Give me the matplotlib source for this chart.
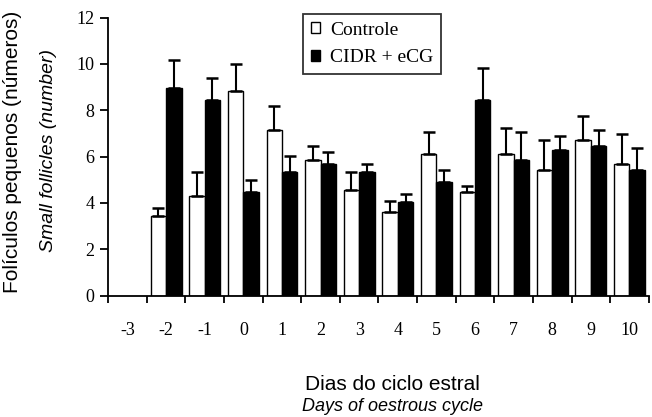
import matplotlib
matplotlib.use("Agg")
import matplotlib.pyplot as plt
import numpy as np

# values (mean and upper SEM), -3 has no data
days = ["-3", "-2", "-1", "0", "1", "2", "3", "4", "5", "6", "7", "8", "9", "10"]
controle = [np.nan, 3.43, 4.30, 8.85, 7.13, 5.84, 4.54, 3.59, 6.09, 4.46, 6.09, 5.40, 6.70, 5.66]
controle_err = [np.nan, 0.37, 1.03, 1.14, 1.05, 0.63, 0.79, 0.48, 0.97, 0.28, 1.15, 1.33, 1.06, 1.32]
cidr = [np.nan, 8.94, 8.44, 4.47, 5.32, 5.68, 5.33, 4.04, 4.90, 8.44, 5.85, 6.28, 6.44, 5.40]
cidr_err = [np.nan, 1.22, 0.94, 0.52, 0.70, 0.51, 0.36, 0.36, 0.52, 1.39, 1.22, 0.62, 0.72, 0.98]

SERIF = "Liberation Serif"
SANS = "Liberation Sans"

x = np.arange(len(days))
w = 0.4

fig = plt.figure(figsize=(6.52, 4.17), dpi=100)
ax = fig.add_axes([0.166, 0.291, 0.829, 0.667])

ax.bar(x - w / 2, controle, w, color="white", edgecolor="black", linewidth=1.0,
       label="Controle", zorder=2)
ax.bar(x + w / 2, cidr, w, color="black", edgecolor="black", linewidth=1.0,
       label="CIDR + eCG", zorder=2)

err_style = dict(fmt="none", ecolor="black", elinewidth=1.5, capsize=4, capthick=1.8, zorder=3)
ax.errorbar(x - w / 2, controle, yerr=[np.zeros(len(x)), controle_err], **err_style)
ax.errorbar(x + w / 2, cidr, yerr=[np.zeros(len(x)), cidr_err], **err_style)

ax.set_xlim(-0.5, len(days) - 0.5)
ax.set_ylim(0, 12)
ax.set_yticks(range(0, 13, 2))

# ticks on the category boundaries, labels in the middle
ax.set_xticks(np.arange(len(days) + 1) - 0.5)
ax.set_xticklabels([])
ax.set_xticks(x, minor=True)
ax.set_xticklabels(days, minor=True)
ax.tick_params(axis="x", which="major", direction="out", length=5, width=1.3)
ax.tick_params(axis="x", which="minor", length=0, pad=19)
ax.tick_params(axis="y", direction="out", length=6, width=1.3, pad=4)

for lab in ax.get_xticklabels(minor=True) + ax.get_yticklabels():
    lab.set_fontfamily(SERIF)
    lab.set_fontsize(13)

for side in ["top", "right"]:
    ax.spines[side].set_visible(False)
for side in ["left", "bottom"]:
    ax.spines[side].set_linewidth(1.3)

leg = fig.legend(loc="upper left", bbox_to_anchor=(0.465, 0.967),
                 prop={"family": SERIF, "size": 14}, frameon=True, fancybox=False,
                 handlelength=0.45, handleheight=0.45, handletextpad=0.55,
                 borderpad=0.4, labelspacing=0.55, borderaxespad=0)
leg.get_frame().set_edgecolor("black")
leg.get_frame().set_linewidth(1.3)

fig.text(0.0276, 1 - 152 / 417, "Folículos pequenos (números)", family=SANS, fontsize=15,
         rotation=90, rotation_mode="anchor", ha="center", va="baseline")
fig.text(0.0813, 1 - 150 / 417, "Small follicles (number)", family=SANS, style="italic",
         fontsize=14, rotation=90, rotation_mode="anchor", ha="center", va="baseline")

fig.text(392 / 652, 1 - 390 / 417, "Dias do ciclo estral", family=SANS, fontsize=15,
         ha="center", va="baseline")
fig.text(392 / 652, 1 - 411 / 417, "Days of oestrous cycle", family=SANS, style="italic",
         fontsize=13, ha="center", va="baseline")

fig.savefig("out.png", dpi=100)
plt.close(fig)
